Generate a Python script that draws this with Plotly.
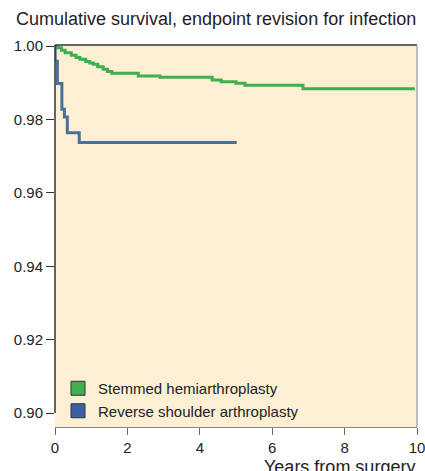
import plotly.graph_objects as go

# Data
stemmed_t = [0.00, 0.05, 0.18, 0.28, 0.45, 0.58, 0.69, 0.85, 0.96, 1.06, 1.18, 1.33, 1.45, 1.57, 2.30, 2.90, 4.34, 4.59, 5.00, 5.25, 6.85, 9.94]
stemmed_s = [1.0000, 0.99954, 0.99890, 0.99818, 0.99750, 0.99690, 0.99639, 0.99580, 0.99540, 0.99503, 0.99440, 0.99367, 0.99310, 0.99258, 0.99185, 0.99150, 0.99076, 0.99030, 0.98986, 0.98932, 0.98840, 0.98840]
reverse_t = [0.00, 0.005, 0.065, 0.19, 0.26, 0.34, 0.67, 5.02]
reverse_s = [1.0000, 0.9959, 0.9898, 0.9828, 0.9807, 0.9764, 0.9737, 0.9737]
y_ticks = [0.90, 0.92, 0.94, 0.96, 0.98, 1.00]
x_ticks = [0, 2, 4, 6, 8, 10]
series_names = ["Stemmed hemiarthroplasty", "Reverse shoulder arthroplasty"]

GREEN = "#3fae4c"
BLUE_LINE = "#4b6f97"
BLUE_SWATCH = "#3c5fa6"
FONT = "Liberation Sans, Arial, sans-serif"

fig = go.Figure()
fig.add_trace(go.Scatter(x=stemmed_t, y=stemmed_s, mode="lines", line=dict(color=GREEN, width=3, shape="hv"),
                         showlegend=False, hoverinfo="skip"))
fig.add_trace(go.Scatter(x=reverse_t, y=reverse_s, mode="lines", line=dict(color=BLUE_LINE, width=3, shape="hv"),
                         showlegend=False, hoverinfo="skip"))
# legend swatches
fig.add_trace(go.Scatter(x=[None], y=[None], mode="markers", name=series_names[0],
                         marker=dict(symbol="square", size=14, color=GREEN, line=dict(color="#333", width=1))))
fig.add_trace(go.Scatter(x=[None], y=[None], mode="markers", name=series_names[1],
                         marker=dict(symbol="square", size=14, color=BLUE_SWATCH, line=dict(color="#333", width=1))))

fig.update_layout(
    width=425, height=471,
    margin=dict(l=55, r=8, t=45, b=44, autoexpand=False),
    paper_bgcolor="white",
    plot_bgcolor="#fdefd3",
    font=dict(family=FONT, color="#222", size=15),
    showlegend=True,
    legend=dict(x=3/362, y=0.0, xanchor="left", yanchor="bottom", bgcolor="rgba(0,0,0,0)",
                font=dict(size=15, color="#222"), tracegroupgap=0, itemwidth=30),
    xaxis=dict(range=[0, 10], tickvals=x_ticks, ticktext=[str(v) for v in x_ticks],
               showgrid=False, zeroline=False, showline=True, linecolor="#888", linewidth=1,
               ticks="outside", ticklen=7, tickcolor="#666", tickfont=dict(size=15),
               ticklabeloverflow="allow", automargin=False),
    yaxis=dict(range=[0.8962, 1.0003], tickvals=y_ticks, ticktext=[f"{v:.2f}" for v in y_ticks],
               showgrid=False, zeroline=False, showline=False, automargin=False,
               ticks="outside", ticklen=8, tickcolor="#333", tickfont=dict(size=15)),
    shapes=[
        dict(type="line", xref="paper", yref="paper", x0=0, x1=1, y0=1, y1=1, line=dict(color="#333", width=1.5)),
        dict(type="line", xref="paper", yref="paper", x0=1, x1=1, y0=0, y1=1, line=dict(color="#aaa", width=1.5)),
        dict(type="line", xref="paper", yref="y", x0=0, x1=0, y0=0.90, y1=1.0003, line=dict(color="#333", width=1.5)),
    ],
    annotations=[
        dict(text="Cumulative survival, endpoint revision for infection", xref="paper", yref="paper",
             x=-41/362, y=1 + 26/382, xanchor="left", yanchor="middle", showarrow=False,
             font=dict(size=18, color="#222")),
        dict(text="Years from surgery", xref="paper", yref="paper", x=1.0, y=-28/382,
             xanchor="right", yanchor="top", showarrow=False, font=dict(size=18, color="#222")),
    ],
)

fig.write_html("out.html", config={"displayModeBar": False},
               post_script="document.body.style.margin='0';document.body.style.overflow='hidden';")
